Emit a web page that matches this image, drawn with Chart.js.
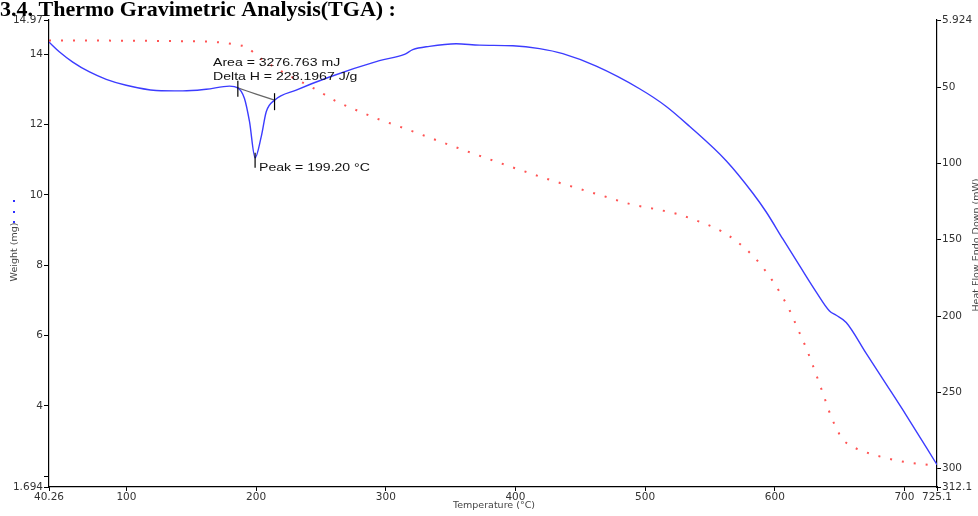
<!DOCTYPE html>
<html>
<head>
<meta charset="utf-8">
<script src="https://cdn.jsdelivr.net/npm/chart.js@4.4.1/dist/chart.umd.min.js"></script>
<style>
  html, body { margin: 0; padding: 0; background: #fff; overflow: hidden; }
  canvas { display: block; }
</style>
</head>
<body>
<canvas id="tga" width="978" height="516"></canvas>
<script>
// weight curve (red dotted, left axis)
const weightTemp = [40.26, 60, 100, 140, 170, 184.6, 193.6, 200.1, 220, 246.3, 261.8, 279.7, 295.1, 310.6, 349, 387.7, 426.3, 464.8,
  489.3, 507.2, 525.2, 541.7, 558.7, 571.5, 583.8, 594.2, 603.7, 611.4, 618.2, 624.7, 633.2, 638.6, 644.0, 647.8, 651.5,
  658.2, 666.7, 683.3, 701.4, 721.9, 725.1];
const weightMg = [14.39, 14.39, 14.38, 14.37, 14.34, 14.27, 14.18, 13.97, 13.5, 12.99, 12.66, 12.37, 12.14, 11.94, 11.42, 10.91, 10.43, 10.0,
  9.73, 9.6, 9.45, 9.24, 8.97, 8.65, 8.24, 7.77, 7.24, 6.72, 6.15, 5.6, 4.76, 4.2, 3.64, 3.35, 3.08,
  2.88, 2.73, 2.54, 2.4, 2.31, 2.29];

// heat flow curve (blue, right axis, reversed)
const heatTemp = [40.26, 48.4, 58.6, 71.5, 84.4, 99.8, 122.9, 143.5, 161.5, 179.5, 185.9, 191.0, 194.9, 199.2, 203.9, 207.8,
  214.2, 230.9, 256.6, 295.1, 314.4, 320.8, 333.6, 354.3, 372.2, 398, 418.6, 436.5, 462.3, 495.7, 516.3, 534.2,
  562.5, 583.1, 593.4, 606.2, 619.1, 632.0, 642.2, 647.4, 655.1, 670.5, 686, 701.4, 725.1];
const heatFlow = [20.4, 26.9, 33.5, 40.0, 44.8, 48.7, 52.1, 52.4, 51.3, 49.3, 50.4, 57.4, 72.6, 96.3, 82.6, 66.1,
  58.5, 51.9, 43.3, 32.6, 28.4, 25.4, 23.2, 21.5, 22.4, 22.8, 24.7, 28.0, 36.2, 51.0, 62.6, 75.6,
  98.2, 119.5, 131.8, 149.5, 167.0, 184.3, 196.7, 199.5, 204.2, 224.5, 244.8, 265.1, 297.5];

// integration baseline under the peak
const baseTemp = [185.9, 200, 214.2];
const baseFlow = [50.4, 54.5, 58.5];

// onset / end / peak markers
const markTemp = [185.9, 214.2, 199.2];
const markFlow = [50.4, 58.5, 96.3];

const xTicks = [40.26, 100, 200, 300, 400, 500, 600, 700, 725.1];
const yTicks = [1.694, 2, 4, 6, 8, 10, 12, 14, 14.97];
const y2Ticks = [5.924, 50, 100, 150, 200, 250, 300, 312.1];

const tickFont = { family: 'DejaVu Sans', size: 10.5 };
const tickColor = '#333';

const pts = (xs, ys) => xs.map((x, i) => ({ x: x, y: ys[i] }));

// stretched sans text, like the exported figure
function wideText(ctx, txt, x, y, size) {
  ctx.save();
  ctx.translate(x, y);
  ctx.scale(1.28, 1);
  ctx.font = size + 'px "Liberation Sans"';
  ctx.fillText(txt, 0, 0);
  ctx.restore();
}

const extras = {
  id: 'extras',
  afterDatasetsDraw(chart) {
    const ctx = chart.ctx;
    const sx = chart.scales.x, sy2 = chart.scales.y2;

    // vertical markers
    ctx.save();
    ctx.strokeStyle = '#000';
    ctx.lineWidth = 1.2;
    const offs = [[-7, 9], [-7, 10], [-5, 10]];
    markTemp.forEach((t, i) => {
      const px = sx.getPixelForValue(t);
      const py = sy2.getPixelForValue(markFlow[i]);
      ctx.beginPath();
      ctx.moveTo(px, py + offs[i][0]);
      ctx.lineTo(px, py + offs[i][1]);
      ctx.stroke();
    });

    // annotations
    ctx.fillStyle = '#111';
    ctx.textBaseline = 'alphabetic';
    ctx.textAlign = 'left';
    wideText(ctx, 'Area = 3276.763 mJ', 213, 66, 11);
    wideText(ctx, 'Delta H = 228.1967 J/g', 213, 80, 11);
    wideText(ctx, 'Peak = 199.20 \u00B0C', 259, 171, 11);

    // section title (cut off at the top, as in the source)
    ctx.fillStyle = '#000';
    ctx.font = 'bold 22px "Liberation Serif"';
    ctx.fillText('3.4. Thermo Gravimetric Analysis(TGA) :', 0, 16);

    // axis titles
    ctx.fillStyle = '#444';
    ctx.font = '9.5px "DejaVu Sans"';
    ctx.textAlign = 'center';
    ctx.fillText('Temperature (\u00B0C)', 494, 508);

    ctx.save();
    ctx.translate(17, 252);
    ctx.rotate(-Math.PI / 2);
    ctx.fillText('Weight (mg)', 0, 0);
    ctx.restore();

    ctx.save();
    ctx.translate(979, 245);
    ctx.rotate(-Math.PI / 2);
    ctx.fillText('Heat Flow Endo Down (mW)', 0, 0);
    ctx.restore();

    // little dotted key next to "Weight (mg)"
    ctx.fillStyle = '#3030ff';
    [200, 211, 221].forEach(y => ctx.fillRect(13, y, 2, 2));
    ctx.restore();
  }
};

new Chart(document.getElementById('tga'), {
  type: 'line',
  data: {
    datasets: [
      {
        label: 'Weight',
        data: pts(weightTemp, weightMg),
        yAxisID: 'y',
        borderColor: 'rgba(255, 40, 40, 0.8)',
        borderWidth: 2,
        borderDash: [2, 10],
        pointRadius: 0,
        cubicInterpolationMode: 'monotone'
      },
      {
        label: 'Heat Flow',
        data: pts(heatTemp, heatFlow),
        yAxisID: 'y2',
        borderColor: 'rgb(60, 60, 255)',
        borderWidth: 1.4,
        pointRadius: 0,
        cubicInterpolationMode: 'monotone'
      },
      {
        label: 'Baseline',
        data: pts(baseTemp, baseFlow),
        yAxisID: 'y2',
        borderColor: '#666',
        borderWidth: 1.2,
        pointRadius: 0,
        tension: 0.3
      }
    ]
  },
  options: {
    responsive: false,
    animation: false,
    devicePixelRatio: 1,
    layout: { padding: { top: 20, left: 0, right: 0, bottom: 0 } },
    plugins: { legend: { display: false }, tooltip: { enabled: false } },
    scales: {
      x: {
        type: 'linear',
        min: 40.26,
        max: 725.1,
        afterBuildTicks: s => { s.ticks = xTicks.map(v => ({ value: v })); },
        afterFit: s => { s.height = 29; },
        ticks: { font: tickFont, color: tickColor, padding: 0, autoSkip: false, maxRotation: 0, callback: v => String(v) },
        grid: { drawOnChartArea: false, tickLength: 4, color: '#000' },
        border: { color: '#000', width: 1.2 }
      },
      y: {
        position: 'left',
        min: 1.694,
        max: 14.97,
        afterBuildTicks: s => { s.ticks = yTicks.map(v => ({ value: v })); },
        afterFit: s => { s.width = 49; },
        ticks: { font: tickFont, color: tickColor, padding: 1, autoSkip: false, callback: v => (v === 2 ? '' : String(v)) },
        grid: { drawOnChartArea: false, tickLength: 5, color: '#000' },
        border: { color: '#000', width: 1.2 }
      },
      y2: {
        position: 'right',
        reverse: true,
        min: 5.924,
        max: 312.1,
        afterBuildTicks: s => { s.ticks = y2Ticks.map(v => ({ value: v })); },
        afterFit: s => { s.width = 41; },
        ticks: { font: tickFont, color: tickColor, padding: 1, autoSkip: false, callback: v => String(v) },
        grid: { drawOnChartArea: false, tickLength: 4, color: '#000' },
        border: { color: '#000', width: 1.2 }
      }
    }
  },
  plugins: [extras]
});
</script>
</body>
</html>
